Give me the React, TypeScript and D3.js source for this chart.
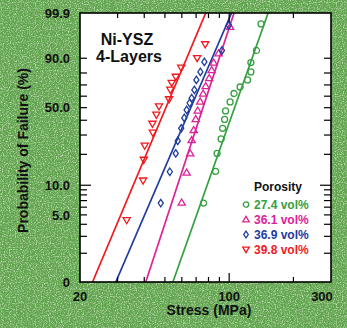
import React from "react";
import * as d3 from "d3";

// porosity series (legend order)
const porosity = ["27.4 vol%", "36.1 vol%", "36.9 vol%", "39.8 vol%"];
const colors = ["#35a040", "#dc2296", "#1d3c9e", "#f01a1e"];
const markers = ["circle", "triUp", "diamond", "triDown"];

// read-off data points: stress (MPa) and failure probability (%)
const stress274 = [75.9, 86.4, 87.8, 91.7, 93.2, 95.2, 96.2, 101, 105.4, 112.5, 121.9, 126.4, 126.4, 134.3, 141];
const prob274 = [6.6, 13.7, 20.4, 27.7, 34.3, 40.6, 47.3, 54.9, 62.4, 68.2, 74.3, 80.8, 87.4, 93.8, 99.5];

const stress361 = [59.9, 63.2, 65.7, 66.7, 68.2, 69.7, 71.2, 73.1, 75.5, 77.6, 80.6, 82.8, 84.6, 89.2, 101];
const prob361 = [6.7, 13.4, 20.5, 27.1, 33.2, 41.0, 47.7, 55.4, 62.4, 69.1, 76.0, 82.3, 87.5, 92.6, 99.3];

const stress369 = [47.8, 52.7, 56.2, 57.4, 59.6, 61.6, 63.2, 65.3, 66.7, 68.7, 70.2, 73.3, 76.5, 92.5, 99.7];
const prob369 = [6.6, 13.6, 20.4, 26.6, 34.3, 41.7, 48.1, 54.0, 58.2, 65.6, 74.3, 80.8, 87.8, 93.8, 99.4];

const stress398 = [33.1, 39.5, 39.8, 40.2, 43.9, 43.7, 45.6, 46.9, 52.3, 53.0, 53.8, 56.2, 59.6, 70.8, 77.2];
const prob398 = [4.4, 11.1, 17.7, 24.0, 31.3, 37.3, 44.1, 51.0, 57.1, 65.6, 71.7, 76.8, 83.8, 90.0, 96.0];

// weibull fits: modulus m, characteristic strength (MPa)
const fitModulus = [6.36, 6.86, 5.23, 5.35];
const fitScale = [112.3, 79.5, 70.9, 54.1];

const stressLabels = [20, 100, 300];
const stressMinor = [30, 40, 50, 60, 70, 80, 90, 200];
const probTicks = [99.9, 90, 50, 10, 5, 1];
const probTickLabels = ["99.9", "90.0", "50.0", "10.0", "5.0", "0"];
const probMinor = [80, 70, 60, 40, 30, 20, 9, 8, 7, 6, 4, 3, 2];

const W = 347, H = 328;
const L = 80, R = 331, T = 13, B = 282;

const weib = (p: number) => Math.log(-Math.log(1 - p / 100));
const x = d3.scaleLog().domain([20, 300]).range([L, R]);
const yw = d3.scaleLinear().domain([weib(1), weib(99.9)]).range([B, T]);
const y = (p: number) => yw(weib(p));

const seriesStress = [stress274, stress361, stress369, stress398];
const seriesProb = [prob274, prob361, prob369, prob398];

function marker(kind: string, cx: number, cy: number, s: number) {
  if (kind === "circle") return `M${cx + s},${cy}A${s},${s} 0 1,1 ${cx - s},${cy}A${s},${s} 0 1,1 ${cx + s},${cy}Z`;
  if (kind === "triUp") return `M${cx},${cy - s * 1.15}L${cx + s * 1.2},${cy + s * 0.9}L${cx - s * 1.2},${cy + s * 0.9}Z`;
  if (kind === "triDown") return `M${cx},${cy + s * 1.15}L${cx + s * 1.2},${cy - s * 0.9}L${cx - s * 1.2},${cy - s * 0.9}Z`;
  return `M${cx},${cy - s * 1.25}L${cx + s * 0.85},${cy}L${cx},${cy + s * 1.25}L${cx - s * 0.85},${cy}Z`;
}

export default function App() {
  const font = "'Liberation Sans', Arial, Helvetica, sans-serif";
  const line = d3.line<number>().x(p => x(p)).y((p, i) => y(i === 0 ? 1 : 99.9));

  return (
    <svg width={W} height={H} style={{ position: "absolute", left: 0, top: 0 }} fontFamily={font}>
      <defs>
        <filter id="grain" x="0" y="0" width="100%" height="100%">
          <feTurbulence type="fractalNoise" baseFrequency="0.85" numOctaves="2" seed="7" />
          <feColorMatrix type="matrix" values="0 0 0 0 0.70  0 0 0 0 0.88  0 0 0 0 0.60  0 0 0 2.2 -1.0" />
        </filter>
        <clipPath id="plot"><rect x={L} y={T} width={R - L} height={B - T} /></clipPath>
      </defs>
      <rect width={W} height={H} fill="#61a34f" />
      <rect width={W} height={H} filter="url(#grain)" />
      <rect x={L} y={T} width={R - L} height={B - T} fill="#fff" />

      {/* fitted lines */}
      <g clipPath="url(#plot)">
        {fitModulus.map((m, i) => {
          const s1 = fitScale[i] * Math.exp(weib(1) / m);
          const s2 = fitScale[i] * Math.exp(weib(99.9) / m);
          return <path key={i} d={line([s1, s2]) || ""} stroke={colors[i]} strokeWidth={1.7} fill="none" />;
        })}
      </g>

      {/* data points */}
      {seriesStress.map((ss, i) => (
        <g key={i} stroke={colors[i]} strokeWidth={1.3} fill="none">
          {ss.map((s, j) => (
            <path key={j} d={marker(markers[i], x(s), y(seriesProb[i][j]), 3)} />
          ))}
        </g>
      ))}

      {/* frame and ticks */}
      <rect x={L} y={T} width={R - L} height={B - T} fill="none" stroke="#000" strokeWidth={1.6} />
      <g stroke="#000" strokeWidth={1.2}>
        {stressMinor.map(v => (
          <g key={v}>
            <line x1={x(v)} x2={x(v)} y1={B} y2={B - 5} />
            <line x1={x(v)} x2={x(v)} y1={T} y2={T + 5} />
          </g>
        ))}
        <line x1={x(100)} x2={x(100)} y1={B} y2={B - 9} />
        <line x1={x(100)} x2={x(100)} y1={T} y2={T + 9} />
        {probMinor.concat([90, 50, 10, 5]).map(p => {
          const len = p === 10 ? 11 : 7;
          return (
            <g key={p}>
              <line x1={L} x2={L + len} y1={y(p)} y2={y(p)} />
              <line x1={R} x2={R - len} y1={y(p)} y2={y(p)} />
            </g>
          );
        })}
      </g>

      {/* tick labels */}
      <g fontSize={13} fontWeight="bold" fill="#111">
        {probTicks.map((p, i) => (
          <text key={p} x={70} y={y(p)} dy="0.36em" textAnchor="end">{probTickLabels[i]}</text>
        ))}
        {stressLabels.map(v => (
          <text key={v} x={v === 300 ? x(v) - 9 : x(v)} y={300.5} textAnchor="middle">{v}</text>
        ))}
      </g>

      {/* axis titles */}
      <text x={209} y={315} fontSize={14} fontWeight="bold" textAnchor="middle" fill="#111">Stress (MPa)</text>
      <text transform="translate(27.5,150.5) rotate(-90)" fontSize={14} fontWeight="bold" textAnchor="middle" fill="#111">
        Probability of Failure (%)
      </text>

      {/* title */}
      <g fontSize={16} fontWeight="bold" textAnchor="middle" fill="#111">
        <text x={127} y={44.5}>Ni-YSZ</text>
        <text x={129} y={62}>4-Layers</text>
      </g>

      {/* legend */}
      <g fontSize={12} fontWeight="bold">
        <text x={254} y={190.5} fill="#111">Porosity</text>
        {porosity.map((name, i) => (
          <g key={name}>
            <path d={marker(markers[i], 246, 204.5 + i * 15, 2.7)} stroke={colors[i]} strokeWidth={1.3} fill="none" />
            <text x={254} y={209 + i * 15} fill={colors[i]}>{name}</text>
          </g>
        ))}
      </g>
    </svg>
  );
}
